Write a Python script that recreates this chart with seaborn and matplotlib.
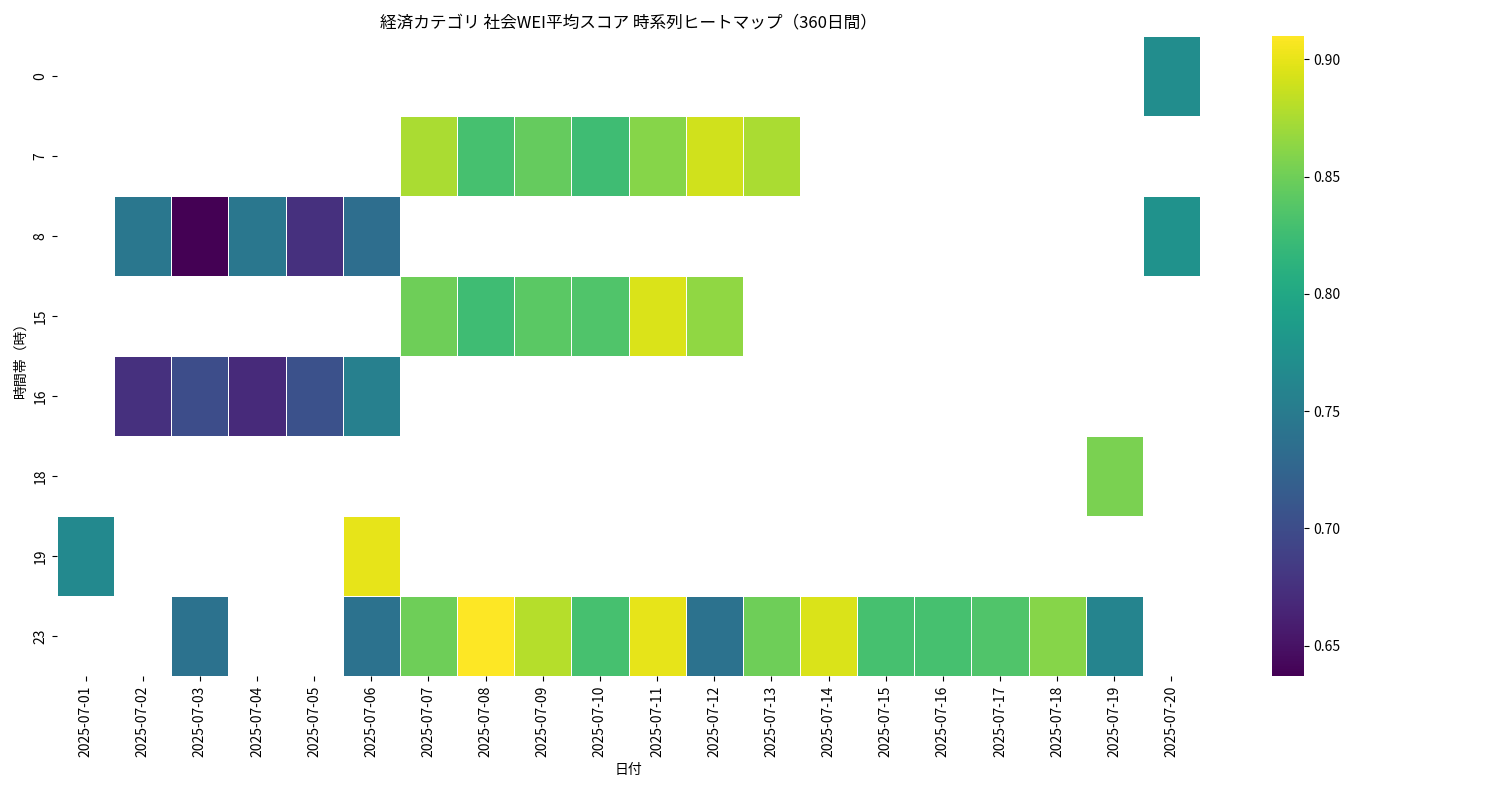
import numpy as np
import pandas as pd
import matplotlib
matplotlib.use("Agg")
import matplotlib.pyplot as plt
import seaborn as sns

plt.rcParams["font.family"] = ["Noto Sans CJK JP", "DejaVu Sans"]

dates = [f"2025-07-{d:02d}" for d in range(1, 21)]
hours = [0, 7, 8, 15, 16, 18, 19, 23]

row_0 = {"2025-07-20": 0.77}
row_7 = {"2025-07-07": 0.875, "2025-07-08": 0.83, "2025-07-09": 0.845, "2025-07-10": 0.825,
         "2025-07-11": 0.86, "2025-07-12": 0.89, "2025-07-13": 0.875}
row_8 = {"2025-07-02": 0.745, "2025-07-03": 0.637, "2025-07-04": 0.745, "2025-07-05": 0.675,
         "2025-07-06": 0.735, "2025-07-20": 0.775}
row_15 = {"2025-07-07": 0.85, "2025-07-08": 0.825, "2025-07-09": 0.84, "2025-07-10": 0.835,
          "2025-07-11": 0.895, "2025-07-12": 0.865}
row_16 = {"2025-07-02": 0.675, "2025-07-03": 0.70, "2025-07-04": 0.67, "2025-07-05": 0.705,
          "2025-07-06": 0.755}
row_18 = {"2025-07-19": 0.855}
row_19 = {"2025-07-01": 0.765, "2025-07-06": 0.90}
row_23 = {"2025-07-03": 0.74, "2025-07-06": 0.74, "2025-07-07": 0.85, "2025-07-08": 0.91,
          "2025-07-09": 0.88, "2025-07-10": 0.83, "2025-07-11": 0.90, "2025-07-12": 0.74,
          "2025-07-13": 0.85, "2025-07-14": 0.895, "2025-07-15": 0.83, "2025-07-16": 0.83,
          "2025-07-17": 0.835, "2025-07-18": 0.86, "2025-07-19": 0.76}

rows = [row_0, row_7, row_8, row_15, row_16, row_18, row_19, row_23]
df = pd.DataFrame([[r.get(d, np.nan) for d in dates] for r in rows], index=hours, columns=dates)

fig = plt.figure(figsize=(15, 8), dpi=100)
ax = fig.add_axes([0.038, 0.155, 0.762, 0.8])
cax = fig.add_axes([0.848, 0.155, 0.021, 0.8])
sns.heatmap(df, cmap="viridis", linewidths=0.5, linecolor="white", ax=ax, cbar_ax=cax)
ax.set_title("経済カテゴリ 社会WEI平均スコア 時系列ヒートマップ（360日間）", fontsize=12)
ax.set_xlabel("日付")
ax.set_ylabel("時間帯（時）")
ax.set_xticklabels(dates, rotation=90)
fig.savefig("out.png")
